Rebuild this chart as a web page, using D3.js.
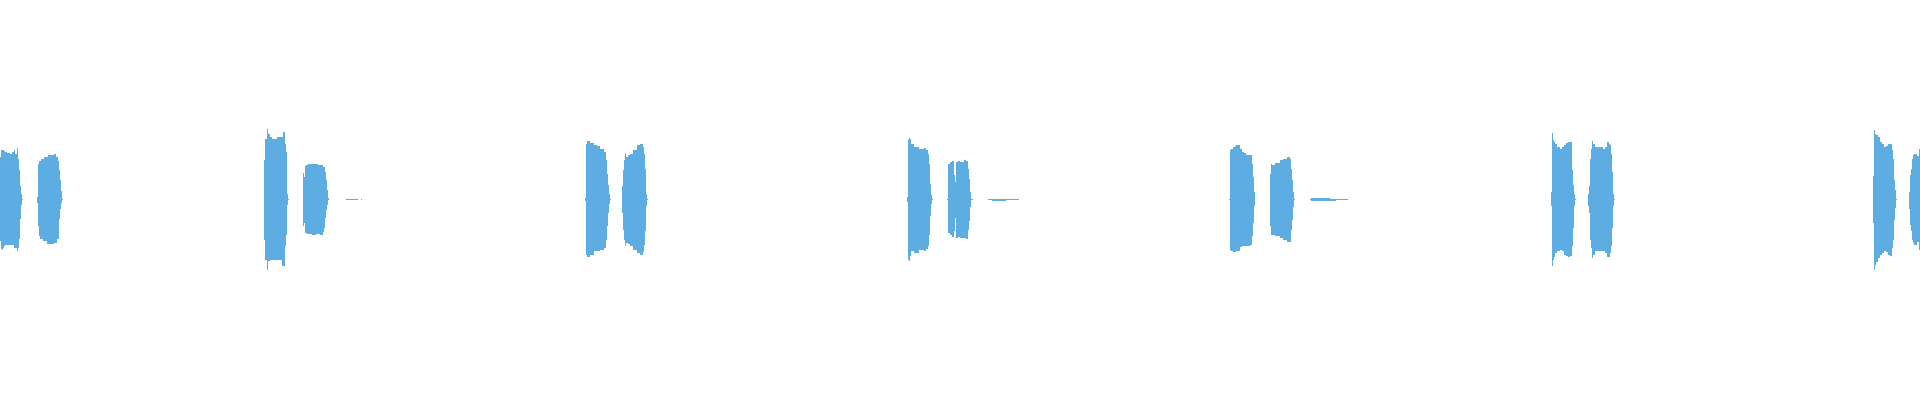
<!DOCTYPE html>
<html>
<head>
<meta charset="utf-8">
<script src="https://cdnjs.cloudflare.com/ajax/libs/d3/7.8.5/d3.min.js"></script>
<style>
  html, body { margin: 0; padding: 0; background: #fff; overflow: hidden; }
</style>
</head>
<body>
<div id="wave"></div>
<script>
// waveform peaks, one value per frame, in percent of full scale
var frameCount = 1920;

// first frame of each sound segment (ring bursts + short hiss)
var segmentStart = [0, 37, 264, 303, 346, 585, 622, 907, 947, 988, 1229, 1270, 1310, 1551, 1588, 1873, 1909];

// positive peak per frame
var peakHigh = [
  [21.5,25,25,25,24.5,24,24,23.5,23.5,23.5,23,23,24,24,25,23,23,26,20.5,15,7,3,0.5],
  [1.5,18,19.5,19.5,20.5,20.5,20.5,21.5,21.5,21.5,21.5,22.5,22.5,22.5,22.5,22.5,22.5,23,23,21.5,21.5,19.5,15,10,4.5,0.5],
  [19.75,30.5,30.5,35.5,33,33,31.5,31.5,30.5,30.5,30.5,30.5,30.5,31.5,31.5,31.5,31.5,31.5,31.5,34,34,28,24,3,0.5],
  [13.5,11.5,17,17.5,17.5,17.75,17.75,18,18,18,18,18,18,18,18,17.5,17.5,17.25,17.25,17.25,16.5,16.5,14,9.75,4.75,1],
  [0.25,0.25,0.25,0.25,0.25,0.25,0.25,0.25,0.25,0.25,0.25,0.25,0,0,0,0.25],
  [1,28,29.25,29.25,29.25,28.5,28.5,28.5,28.5,27.5,27.5,27.5,26.75,26.75,26.75,25.5,25.5,25.5,25.5,24,24,19.75,13,7.25,3,0.5],
  [6.75,14.75,19.75,23.5,21.5,21.5,22.25,22.25,23,23,23,25,25,25,25,27.25,27.25,27.25,28,28,28,26.4,23,15.5,3,0.5],
  [1.5,30,31,30.25,28,28,28,26.5,26.5,26.5,26.5,26.5,25.5,25.5,25.5,25.5,25.5,26,26,24.75,24.75,23,18,8,2.5,0.5],
  [0.25,18,18,18.9,18.9,19.25,19.25,12.25,9,19,19,19.25,19.25,19,19,19,19,19.75,19.75,19.4,19.4,15.5,10.5,4,0.5,0.5],
  [0.25,0.25,0.25,0.25,0.25,0.25,0.25,0.25,0.25,0.25,0.25,0.25,0.25,0.25,0.25,0.25,0.25,0.25,0.25,0.25,0.25,0.25,0.25,0.25,0.25,0.25,0.25,0.25,0.25,0.25,0.25],
  [0.25,25,25.5,25.5,26.5,26.5,26.75,27.25,27.25,27.25,27.25,25.5,25.5,24,24,23.25,23.25,22.25,22.25,22.25,22.25,22.25,22.25,18,11.5,4],
  [13,18,17.5,17.5,17.5,18.5,18.5,18.5,18.5,18.5,19.75,19.75,19.75,20.5,20.5,20.5,20.5,21.5,21.5,21.5,20.5,15.5,9.75,4,0.5],
  [0.25,0.75,0.75,0.75,0.75,0.75,0.75,0.75,0.75,0.75,0.75,0.75,0.75,0.75,0.75,0.75,0.75,0.75,0.75,0.75,0.25,0.25,0.25,0.25,0.25,0.25,0.25,0.25,0.25,0.25,0.25,0.25,0.25,0.25,0.25,0.25,0.25,0.25],
  [3.9,33.25,29.75,29,28,28,26.5,26.5,26.5,25.25,25.25,26.5,26.5,27.25,27.25,28.5,28.5,29,29,29,29,14.75,7.25,3,0.5],
  [3,6.75,20.5,25.5,29.25,28,28,26.5,26.5,26.5,26.5,26.5,26.5,26.5,26.5,25.5,25.5,26.5,26.5,28.9,28.9,28,27.25,23,13.9,3,0.5],
  [11.75,34.75,33,32.25,32.25,31.4,31.4,28.9,28.9,28,28,26.5,26.5,26.75,26.75,28,28,28,28,24.75,20.5,9.75,4.75,0.5],
  [4,12.25,15.5,20.5,22.5,23,23,23,22,22,25.5]
];

// negative peak per frame (depth below zero)
var peakLow = [
  [21,25,25.5,24.5,23.5,23,23,23,23,23,23,23,23,23,24.5,24.5,24.5,26,24.5,20,10,3,0.5],
  [2,13.5,18.5,20,20,20,21,21,21,21,22.5,22.5,22.5,22.5,22.5,22.5,22.5,22,22,22,20,20,10,5,2,0.5],
  [20.25,30.25,30.25,35.5,31,31,30.25,30.25,30.25,30.25,30.25,30.25,30.25,30.25,30.25,30.25,30.25,30.25,33.5,33.5,33.5,23.5,17.75,3,0.5],
  [13.25,11.9,17,17,17.25,17.25,17.5,17.5,17.5,17.75,17.75,17.75,17.75,17.5,17.5,17.5,17.5,17.75,17.75,17.75,16.5,14.4,9.4,5.25,2.75,0.5],
  [0.25,0.25,0.25,0.25,0.25,0.25,0.25,0.25,0.25,0.25,0.25,0.25,0,0,0,0.25],
  [1,27.75,28.9,28.9,28.9,27.75,27.75,27.75,27.75,26,26,26,26,26,26,25.25,25.25,25.25,25.25,24.4,24.4,20.25,13.5,6.9,2.25,0.25],
  [6.75,15.25,20.25,23.5,21.9,21.9,22.5,22.5,23.4,23.4,23.4,25.25,25.25,25.25,25.25,27,27,27,27.75,27.75,27.75,26.4,22.75,16,3.25,0.5],
  [1.5,30.25,31,28.25,26,26,26,26.9,26.9,26.9,26.9,26.9,25.5,25.5,25.5,25.5,25.5,26,26,24.75,24.75,23.25,17.75,8.5,2.25,0.5],
  [0.25,17,17,17.75,17.75,19,19,16,9.5,19.4,19.4,18.65,18.65,19.4,19.4,19.4,19.4,19.4,19.4,19.9,19.9,15.5,11,4,0.5,0.5],
  [0.25,0.25,0.25,0.25,0.75,0.75,0.75,0.75,0.75,0.75,0.75,0.75,0.75,0.75,0.75,0.75,0.75,0.75,0.25,0.25,0.25,0.25,0.25,0.25,0.25,0.25,0.25,0.25,0.25,0.25,0.25],
  [0.25,25.25,25.75,25.75,26.5,26.5,26.25,26,26,26,26,24,24,23.5,23.5,23.5,23.5,23.25,23.25,23.25,23.25,22.75,22.75,18.5,11.9,3.5],
  [13.5,17.75,17.75,17.75,17.75,18.5,18.5,18.5,18.5,18.5,19.4,19.4,19.4,20.25,20.25,20.25,20.25,21.1,21.1,21.1,21.5,15.25,10.25,4,0.5],
  [0.25,0.75,0.75,0.75,0.75,0.75,0.75,0.75,0.75,0.75,0.75,0.75,0.75,0.75,0.75,0.75,0.75,0.75,0.75,0.75,0.75,0.75,0.75,0.75,0.75,0.75,0.25,0.25,0.25,0.25,0.25,0.25,0.25,0.25,0.25,0.25,0.25,0.25],
  [3.5,33.5,30.25,29,27,27,26,26,26,25.5,25.5,26,26,27.75,27.75,28.5,28.5,29,29,28.5,28.5,23.5,14.4,3.5,0.5],
  [3.5,6.9,20.25,24.4,29.4,27.75,27.75,26,26,26,26,26,26,26,26,26,26,26.9,26.9,28.6,28.6,28.9,26.9,23.25,14.4,3.25,0.5],
  [11.9,35.25,32.75,31.1,31.1,29.4,29.4,27.75,27.75,27,27,26,26,26.4,26.4,27.75,27.75,28.4,28.4,24.4,20.25,10.25,4.4,0.5],
  [5,12.75,15.65,20.25,21.9,22.75,22.75,22.75,21.5,21.5,25.5]
];

var width = 1920,
    height = 400;

var svg = d3.select("#wave").append("svg")
    .attr("width", width)
    .attr("height", height)
    .style("display", "block");

var x = d3.scaleLinear().domain([0, frameCount]).range([0, width]);
var y = d3.scaleLinear().domain([-100, 100]).range([height - 1, 0]);

// flatten segments into frames
var frames = [];
segmentStart.forEach(function(s, k) {
    peakHigh[k].forEach(function(v, i) {
        if (v === 0 && peakLow[k][i] === 0) return;
        frames.push({ frame: s + i, hi: v, lo: -peakLow[k][i] });
    });
});

var colW = x(1) - x(0);

svg.append("g")
    .attr("fill", "#5dade2")
    .attr("shape-rendering", "crispEdges")
  .selectAll("rect")
  .data(frames)
  .enter().append("rect")
    .attr("x", function(d) { return x(d.frame); })
    .attr("width", colW)
    .attr("y", function(d) { return y(d.hi); })
    .attr("height", function(d) { return Math.max(1, y(d.lo) - y(d.hi)); });
</script>
</body>
</html>
